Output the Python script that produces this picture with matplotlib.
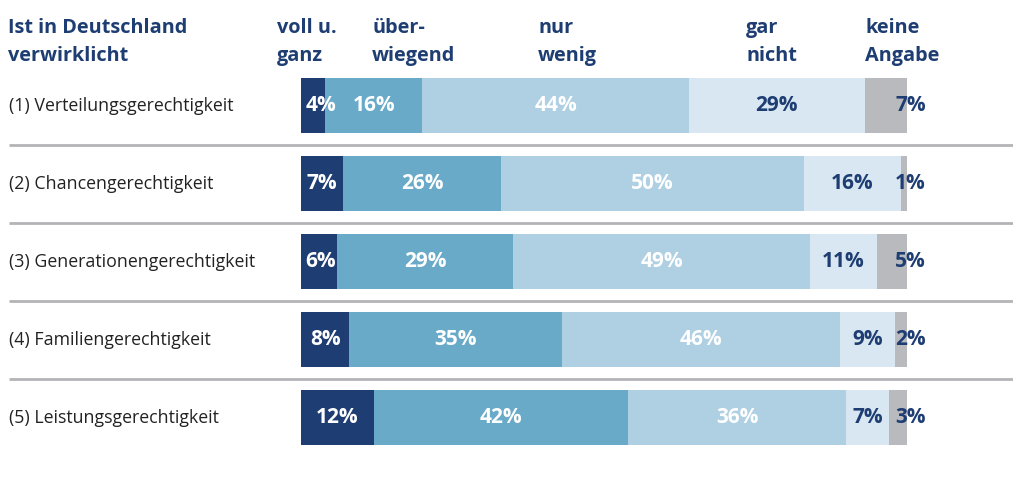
import matplotlib
matplotlib.use("Agg")
import matplotlib.pyplot as plt
import numpy as np

plt.rcParams['font.family'] = ['Open Sans', 'DejaVu Sans']

rows = ["(1) Verteilungsgerechtigkeit", "(2) Chancengerechtigkeit",
        "(3) Generationengerechtigkeit", "(4) Familiengerechtigkeit",
        "(5) Leistungsgerechtigkeit"]
categories = ["voll u.\nganz", "über-\nwiegend", "nur\nwenig", "gar\nnicht", "keine\nAngabe"]
voll = [4, 7, 6, 8, 12]
ueberwiegend = [16, 26, 29, 35, 42]
nur_wenig = [44, 50, 49, 46, 36]
gar_nicht = [29, 16, 11, 9, 7]
keine_angabe = [7, 1, 5, 2, 3]
title_text = "Ist in Deutschland\nverwirklicht"

series = [voll, ueberwiegend, nur_wenig, gar_nicht, keine_angabe]
colors = ["#1e3d73", "#68aac8", "#afcfe2", "#d8e7f1", "#b9babe"]
text_colors = ["white", "white", "white", "#1e3d73", "#1e3d73"]
navy = "#1e3d73"

W, H = 1013, 478
fig = plt.figure(figsize=(W / 100, H / 100), dpi=100)

row_h = 78.0
top_px = 105.5 - row_h / 2
bot_px = top_px + row_h * len(rows)
ax = fig.add_axes([301 / W, 1 - bot_px / H, 606 / W, (bot_px - top_px) / H])
ax.set_xlim(0, 100)
ax.set_ylim(len(rows) - 0.5, -0.5)
ax.axis("off")

y = np.arange(len(rows))
left = np.zeros(len(rows))
px_per = 6.06
pct_fs = 15
for k, vals in enumerate(series):
    vals = np.array(vals, dtype=float)
    ax.barh(y, vals, left=left, height=55 / row_h, color=colors[k], linewidth=0)
    for i in range(len(rows)):
        if k == len(series) - 1:
            ax.text(100 + 19 / px_per, y[i], f"{int(vals[i])}%", ha="right", va="center",
                    color=text_colors[k], fontsize=pct_fs, fontweight="bold", clip_on=False)
        else:
            cx = left[i] + vals[i] / 2
            if k == 0:
                cx = max(cx, left[i] + 20 / px_per)
            ax.text(cx, y[i], f"{int(vals[i])}%", ha="center", va="center",
                    color=text_colors[k], fontsize=pct_fs, fontweight="bold")
    left += vals

x0 = (9 - 301) / px_per
x1 = (1013 - 301) / px_per
for i in range(len(rows) - 1):
    ax.plot([x0, x1], [i + 0.5, i + 0.5], color="#b4b4b8", lw=2, clip_on=False,
            solid_capstyle="butt")

for i, r in enumerate(rows):
    ax.text(x0, y[i], r, ha="left", va="center", fontsize=12.8, color="#222222",
            clip_on=False)

header_x = [277, 372, 538, 746, 865]
hdr_fs = 14.3
def header(xpx, txt):
    l1, l2 = txt.split("\n")
    fig.text(xpx / W, 1 - 33 / H, l1, ha="left", va="baseline", fontsize=hdr_fs,
             fontweight="bold", color=navy)
    fig.text(xpx / W, 1 - 61 / H, l2, ha="left", va="baseline", fontsize=hdr_fs,
             fontweight="bold", color=navy)

header(8, title_text)
for xp, c in zip(header_x, categories):
    header(xp, c)

fig.savefig("out.png", dpi=100)
